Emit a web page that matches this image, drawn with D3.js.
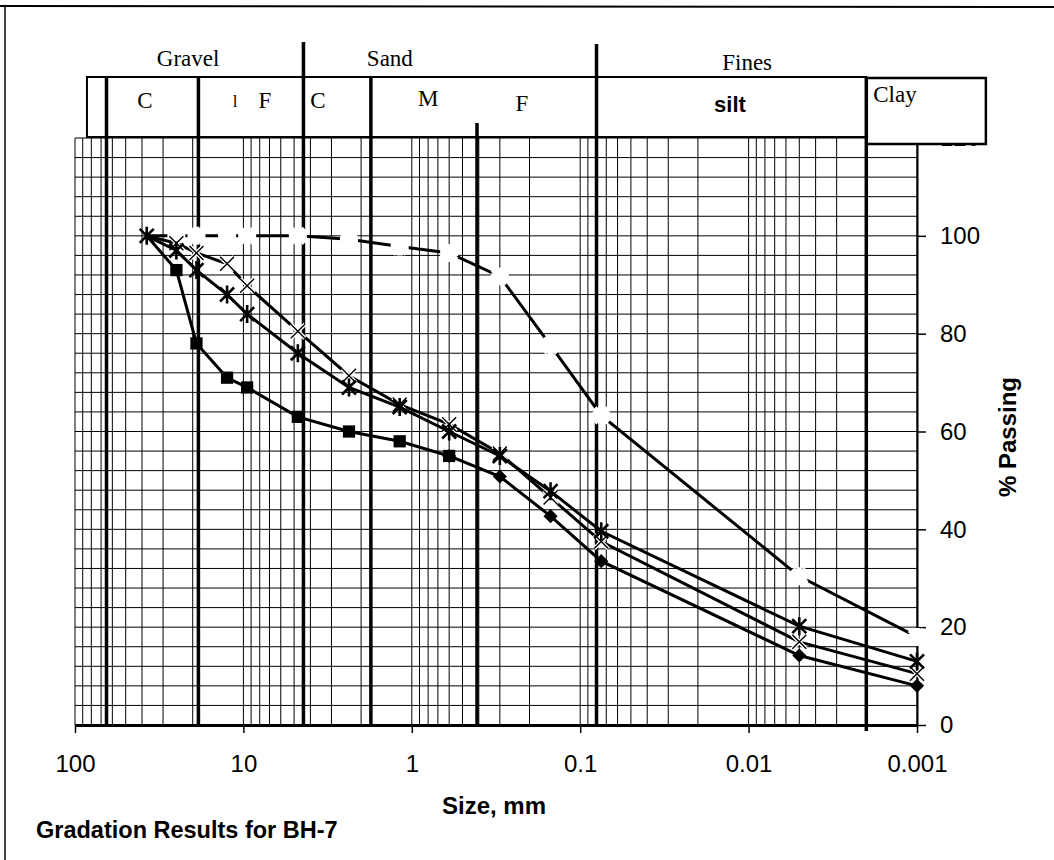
<!DOCTYPE html>
<meta charset="utf-8">
<style>

body {
    margin: 0;
    background: #fff;
}

svg {
    display: block;
}

.serif {
    font-family: "Liberation Serif", "Times New Roman", serif;
}

.sans {
    font-family: "Liberation Sans", Arial, sans-serif;
}

.grid line {
    stroke: #000;
    stroke-width: 1;
}

.axis path,
.axis line {
    stroke: #000;
}

.axis text {
    font-family: "Liberation Sans", Arial, sans-serif;
    font-size: 24px;
    fill: #000;
}

</style>
<svg width="1054" height="860"></svg>
<script src="https://d3js.org/d3.v7.min.js"></script>
<script>

// sieve / hydrometer sizes, mm
var sizes = [37.5, 25, 19, 12.5, 9.5, 4.75, 2.36, 1.18, 0.6, 0.3, 0.15, 0.075, 0.005, 0.001];

// % passing
var passingSquare  = [100, 93, 78, 71, 69, 63, 60, 58, 55, null, null, null, null, null];
var passingDiamond = [null, null, null, null, null, null, null, null, 55, 50.8, 42.7, 33.5, 14.2, 8];
var passingCross   = [100, 98.5, 96.5, 94.3, 89.8, 80.5, 71.4, 65.5, 61.5, 55.5, 46.5, 37.5, 17, 10.5];
var passingStar    = [100, 97, 93, 88, 84, 76, 69, 65, 60, 55, 47.8, 39.6, 20.2, 13];
var passingDash    = [100, 100, 100, 100, 100, 100, 99.3, 97.8, 96.5, 91.7, 77.6, 63.3, 30.4, 18];

// axes
var xTickValues = [100, 10, 1, 0.1, 0.01, 0.001];
var xTickLabels = ["100", "10", "1", "0.1", "0.01", "0.001"];
var yTickValues = [0, 20, 40, 60, 80, 100, 120];

// soil classification header (sizes in mm)
var zoneLines    = [65, 18.5, 4.4, 1.75, 0.41, 0.08, 0.002];
var groupNames   = ["Gravel", "Sand", "Fines"];
var groupAt      = [21.3, 1.35, 0.0102];
var subNames     = ["C", "F", "C", "M", "F", "silt", "Clay"];
var subAt        = [38.4, 7.45, 3.61, 0.80, 0.222, 0.0129, 0.00182];
var headerLeft   = 84.9;
var clayRight    = 0.00039;

// layout only
var zoneLineTop  = [78, 78, 42, 78, 123, 44, 77];
var subY         = [108, 108, 108, 106, 111, 112, 102];

var svg = d3.select("svg");

var x = d3.scaleLog().domain([100, 0.001]).range([75, 917]),
    y = d3.scaleLinear().domain([0, 120]).range([725, 138]);

// outer frame
svg.append("line")
    .attr("x1", 0).attr("x2", 1054)
    .attr("y1", 6).attr("y2", 7)
    .attr("stroke", "#000").attr("stroke-width", 2);
svg.append("line")
    .attr("x1", 5).attr("x2", 5)
    .attr("y1", 6).attr("y2", 860)
    .attr("stroke", "#000").attr("stroke-width", 1.5);

// log grid
var minor = [];
[10, 1, 0.1, 0.01, 0.001].forEach(function(d) {
    for (var k = 1; k <= 9; k++) minor.push(+(k * d).toPrecision(3));
});
minor.push(100);

var grid = svg.append("g").attr("class", "grid");

grid.selectAll(".vx")
    .data(minor)
    .enter().append("line")
    .attr("x1", function(d) { return x(d); })
    .attr("x2", function(d) { return x(d); })
    .attr("y1", y(0))
    .attr("y2", y(120));

grid.selectAll(".hy")
    .data(d3.range(0, 121, 4))
    .enter().append("line")
    .attr("x1", x(100))
    .attr("x2", x(0.001))
    .attr("y1", function(d) { return y(d); })
    .attr("y2", function(d) { return y(d); });

// axes
svg.append("g")
    .attr("class", "axis axis--x")
    .attr("transform", "translate(0," + y(0) + ")")
    .call(d3.axisBottom(x)
        .tickValues(xTickValues)
        .tickFormat(function(d, i) { return xTickLabels[i]; })
        .tickSize(8)
        .tickSizeOuter(0)
        .tickPadding(22))
    .call(function(g) {
        g.select(".domain").attr("stroke-width", 3);
        g.selectAll(".tick line").attr("stroke-width", 1.5);
    });

svg.append("g")
    .attr("class", "axis axis--y")
    .attr("transform", "translate(" + x(0.001) + ",0)")
    .call(d3.axisRight(y)
        .tickValues(yTickValues)
        .tickSize(9)
        .tickSizeOuter(0)
        .tickPadding(14))
    .call(function(g) {
        g.select(".domain").attr("stroke-width", 2);
        g.selectAll(".tick line").attr("stroke-width", 1.5);
    });

// header boxes
svg.append("rect")
    .attr("x", x(headerLeft))
    .attr("y", 77)
    .attr("width", x(0.002) - x(headerLeft))
    .attr("height", 60)
    .attr("fill", "#fff")
    .attr("stroke", "#000")
    .attr("stroke-width", 2);

svg.append("rect")
    .attr("x", x(0.002))
    .attr("y", 78)
    .attr("width", x(clayRight) - x(0.002))
    .attr("height", 66)
    .attr("fill", "#fff")
    .attr("stroke", "#000")
    .attr("stroke-width", 2.5);

// zone boundaries
svg.selectAll(".zone")
    .data(zoneLines)
    .enter().append("line")
    .attr("class", "zone")
    .attr("x1", function(d) { return x(d); })
    .attr("x2", function(d) { return x(d); })
    .attr("y1", function(d, i) { return zoneLineTop[i]; })
    .attr("y2", function(d, i) { return i == zoneLines.length - 1 ? y(0) + 6 : y(0); })
    .attr("stroke", "#000")
    .attr("stroke-width", 3.5);

svg.selectAll(".group")
    .data(groupNames)
    .enter().append("text")
    .attr("class", "serif")
    .attr("x", function(d, i) { return x(groupAt[i]); })
    .attr("y", function(d, i) { return i == 2 ? 70 : 66; })
    .attr("text-anchor", "middle")
    .style("font-size", "23px")
    .text(function(d) { return d; });

svg.selectAll(".sub")
    .data(subNames)
    .enter().append("text")
    .attr("class", function(d) { return d == "silt" ? "sans" : "serif"; })
    .attr("x", function(d, i) { return x(subAt[i]); })
    .attr("y", function(d, i) { return subY[i]; })
    .attr("text-anchor", function(d) { return d == "Clay" ? "start" : "middle"; })
    .style("font-size", function(d) { return d == "silt" ? "22px" : "23px"; })
    .style("font-weight", function(d) { return d == "silt" ? "bold" : "normal"; })
    .text(function(d) { return d; });

// stray mark in the gravel F cell
svg.append("text")
    .attr("class", "serif")
    .attr("x", x(11.2))
    .attr("y", 107)
    .attr("text-anchor", "middle")
    .style("font-size", "17px")
    .text("l");

// series
var rows = sizes.map(function(s, i) {
    return {
        size: s,
        square: passingSquare[i],
        diamond: passingDiamond[i],
        cross: passingCross[i],
        star: passingStar[i],
        dash: passingDash[i]
    };
});

function seriesLine(key) {
    return d3.line()
        .defined(function(d) { return d[key] != null; })
        .x(function(d) { return x(d.size); })
        .y(function(d) { return y(d[key]); });
}

function pts(key) {
    return rows.filter(function(d) { return d[key] != null; });
}

var plot = svg.append("g");

var starPath = "M-7,-7L7,7M-7,7L7,-7M0,-9L0,9";
var crossPath = "M-7,-7L7,7M-7,7L7,-7";

// dashed-looking series: black line cut by pale markers
plot.append("path")
    .datum(rows)
    .attr("d", seriesLine("dash"))
    .attr("fill", "none")
    .attr("stroke", "#000")
    .attr("stroke-width", 3);

plot.selectAll(".m-dash")
    .data(pts("dash").slice(1))
    .enter().append("path")
    .attr("transform", function(d) { return "translate(" + x(d.size) + "," + y(d.dash) + ")"; })
    .attr("d", "M-7,-7L7,7M-7,7L7,-7M0,-9L0,9M-9,0L9,0")
    .attr("stroke", "#fff")
    .attr("stroke-width", 6);

// cross series
plot.append("path")
    .datum(rows)
    .attr("d", seriesLine("cross"))
    .attr("fill", "none")
    .attr("stroke", "#000")
    .attr("stroke-width", 3);

plot.selectAll(".m-cross-w")
    .data(pts("cross").slice(1))
    .enter().append("path")
    .attr("transform", function(d) { return "translate(" + x(d.size) + "," + y(d.cross) + ")"; })
    .attr("d", crossPath)
    .attr("stroke", "#fff")
    .attr("stroke-width", 4);

plot.selectAll(".m-cross")
    .data(pts("cross").slice(1))
    .enter().append("path")
    .attr("transform", function(d) { return "translate(" + x(d.size) + "," + y(d.cross) + ")"; })
    .attr("d", crossPath)
    .attr("stroke", "#000")
    .attr("stroke-width", 1.4);

// diamond series
plot.append("path")
    .datum(rows)
    .attr("d", seriesLine("diamond"))
    .attr("fill", "none")
    .attr("stroke", "#000")
    .attr("stroke-width", 3);

plot.selectAll(".m-diamond")
    .data(pts("diamond"))
    .enter().append("path")
    .attr("transform", function(d) { return "translate(" + x(d.size) + "," + y(d.diamond) + ") rotate(45)"; })
    .attr("d", d3.symbol().type(d3.symbolSquare).size(100))
    .attr("fill", "#000");

// square series
plot.append("path")
    .datum(rows)
    .attr("d", seriesLine("square"))
    .attr("fill", "none")
    .attr("stroke", "#000")
    .attr("stroke-width", 3);

plot.selectAll(".m-square")
    .data(pts("square").slice(1))
    .enter().append("path")
    .attr("transform", function(d) { return "translate(" + x(d.size) + "," + y(d.square) + ")"; })
    .attr("d", d3.symbol().type(d3.symbolSquare).size(150))
    .attr("fill", "#000");

// star series
plot.append("path")
    .datum(rows)
    .attr("d", seriesLine("star"))
    .attr("fill", "none")
    .attr("stroke", "#000")
    .attr("stroke-width", 3);

plot.selectAll(".m-star")
    .data(pts("star"))
    .enter().append("path")
    .attr("transform", function(d) { return "translate(" + x(d.size) + "," + y(d.star) + ")"; })
    .attr("d", starPath)
    .attr("stroke", "#000")
    .attr("stroke-width", 2.6);

// axis titles
svg.append("text")
    .attr("class", "sans")
    .attr("x", 494)
    .attr("y", 814)
    .attr("text-anchor", "middle")
    .style("font-size", "24px")
    .style("font-weight", "bold")
    .text("Size, mm");

svg.append("text")
    .attr("class", "sans")
    .attr("transform", "translate(1008,437) rotate(-90)")
    .attr("dy", "0.35em")
    .attr("text-anchor", "middle")
    .style("font-size", "24px")
    .style("font-weight", "bold")
    .text("% Passing");

svg.append("text")
    .attr("class", "sans")
    .attr("x", 36)
    .attr("y", 838)
    .style("font-size", "23.5px")
    .style("font-weight", "bold")
    .text("Gradation Results for BH-7");

</script>
